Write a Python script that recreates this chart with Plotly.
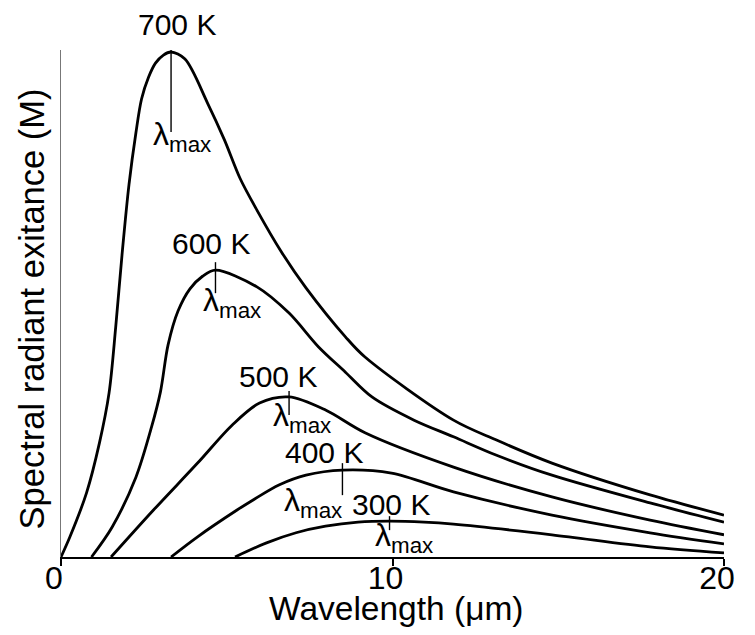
import plotly.graph_objects as go

# Data (relative spectral exitance, 700 K peak = 100)
temps = ["700 K", "600 K", "500 K", "400 K", "300 K"]

x700 = [0, 0.27, 0.77, 1.16, 1.45, 1.65, 1.84, 2.05, 2.26, 2.43, 2.64, 2.85, 3.09, 3.32,
        3.74, 4.42, 4.93, 5.40, 5.91, 6.65, 7.39, 8.58, 9.17, 11.84, 13.12, 14.81, 17.77, 20.0]
y700 = [0, 4.0, 12.7, 22.6, 32.5, 45.5, 59.8, 73.7, 84.0, 90.7, 95.0, 97.8, 99.4, 100,
        98.6, 89.9, 82.6, 75.0, 68.7, 60.4, 53.3, 43.6, 39.6, 27.1, 23.2, 18.6, 12.3, 8.3]

x600 = [0.92, 1.54, 2.26, 2.73, 3.00, 3.23, 3.53, 3.89, 4.27, 4.66, 5.91, 6.88, 7.77, 8.58,
        9.38, 10.65, 11.84, 13.12, 14.81, 17.77, 20.0]
y600 = [0, 5.9, 15.8, 25.7, 32.7, 42.0, 48.7, 53.1, 55.6, 56.8, 53.5, 48.3, 41.6, 36.6,
        31.7, 27.1, 23.8, 20.2, 16.2, 10.7, 6.9]

x500 = [1.51, 2.79, 4.12, 5.16, 5.99, 6.88, 7.98, 9.17, 11.84, 14.81, 17.77, 20.0]
y500 = [0, 9.3, 18.6, 26.1, 30.5, 31.7, 29.1, 24.6, 17.8, 11.9, 7.3, 4.4]

x400 = [3.32, 4.12, 5.31, 5.82, 6.59, 7.39, 8.49, 9.97, 11.84, 14.81, 17.77, 20.0]
y400 = [0, 4.0, 9.3, 11.4, 14.3, 16.2, 17.2, 16.6, 12.9, 8.3, 4.8, 2.6]

x300 = [5.25, 6.20, 7.09, 7.98, 8.96, 9.91, 10.95, 11.84, 14.81, 17.77, 20.0]
y300 = [0, 2.8, 4.8, 6.1, 6.9, 7.1, 6.9, 6.5, 4.4, 2.0, 0.8]

x_ticks = [0, 10, 20]
x_tick_labels = ["0", "10", "20"]

series = [(x700, y700), (x600, y600), (x500, y500), (x400, y400), (x300, y300)]

# styling / placement (pixels)
tick_up_down = [(10, 80), (8, 23), (6, 18), (7, 25), (5, 9)]
label_shift = [(6, 28), (-4, 27), (-11, 20), (-18, 18), (1, 17)]
lam_shift = [(11, -84), (17, -32), (13, -21), (-29, -32), (14, -16)]

FONT = "Liberation Sans, Arial, Helvetica, sans-serif"

fig = go.Figure()
shapes = []
annotations = []
for i, (xs, ys) in enumerate(series):
    fig.add_trace(go.Scatter(x=xs, y=ys, mode="lines",
                             line=dict(color="black", width=2.8, shape="spline", smoothing=0.9),
                             name=temps[i], showlegend=False, hoverinfo="skip"))
    k = ys.index(max(ys))
    px, py = xs[k], ys[k]
    up, down = tick_up_down[i]
    shapes.append(dict(type="line", xref="x", yref="y", ysizemode="pixel", yanchor=py,
                       x0=px, x1=px, y0=-down, y1=up,
                       line=dict(color="black", width=1.4)))
    annotations.append(dict(x=px, y=py, xref="x", yref="y", text=temps[i], showarrow=False,
                            xshift=label_shift[i][0], yshift=label_shift[i][1],
                            font=dict(family=FONT, size=30, color="black"),
                            xanchor="center", yanchor="middle"))
    annotations.append(dict(x=px, y=py, xref="x", yref="y", text="λ<sub>max</sub>",
                            showarrow=False,
                            xshift=lam_shift[i][0], yshift=lam_shift[i][1],
                            font=dict(family=FONT, size=32, color="black"),
                            xanchor="center", yanchor="middle"))

annotations.append(dict(x=0.5, y=0, xref="paper", yref="paper", text="Wavelength (μm)",
                        showarrow=False, xshift=4, yshift=-51,
                        font=dict(family=FONT, size=33.5, color="black"),
                        xanchor="center", yanchor="middle"))
annotations.append(dict(x=0, y=0.5, xref="paper", yref="paper",
                        text="Spectral radiant exitance (M)", textangle=-90,
                        showarrow=False, xshift=-30, yshift=-6,
                        font=dict(family=FONT, size=34.5, color="black"),
                        xanchor="center", yanchor="middle"))

# page body has an 8 px margin: figure is sized / offset so the page fits the window
fig.update_layout(
    width=739, height=619,
    margin=dict(l=53, r=12, t=42, b=70),
    paper_bgcolor="white", plot_bgcolor="white",
    shapes=shapes, annotations=annotations,
    xaxis=dict(range=[0, 20], tickvals=x_ticks, ticktext=x_tick_labels,
               ticks="outside", ticklen=7, tickwidth=1.5, tickcolor="black",
               ticklabelstandoff=-15, ticklabelshift=-7,
               showline=True, linecolor="black", linewidth=2,
               showgrid=False, zeroline=False,
               tickfont=dict(family=FONT, size=32, color="black")),
    yaxis=dict(range=[0, 100.4], showticklabels=False, ticks="",
               showline=True, linecolor="#777", linewidth=1,
               showgrid=False, zeroline=False),
)

fig.write_html("out.html", config={"displayModeBar": False})
